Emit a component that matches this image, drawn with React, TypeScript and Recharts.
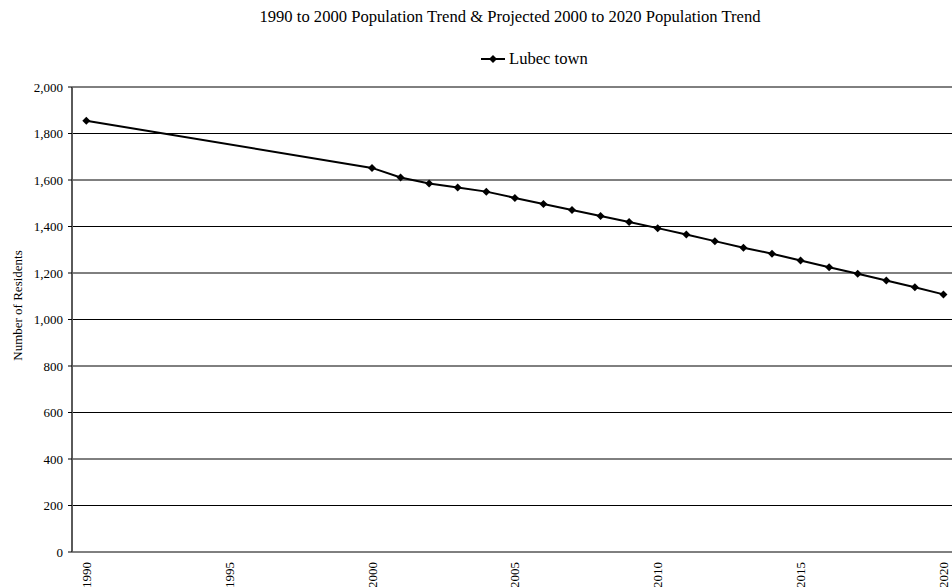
import React from 'react';
import { LineChart, Line, XAxis, YAxis, CartesianGrid } from 'recharts';

const years = [1990, 2000, 2001, 2002, 2003, 2004, 2005, 2006, 2007, 2008, 2009, 2010, 2011, 2012, 2013, 2014, 2015, 2016, 2017, 2018, 2019, 2020];
const residents = [1855, 1652, 1611, 1585, 1568, 1550, 1523, 1497, 1471, 1445, 1419, 1393, 1366, 1337, 1309, 1283, 1254, 1225, 1197, 1168, 1139, 1108];

const yearLabels = [1990, 1995, 2000, 2005, 2010, 2015, 2020];
// Excel-style date axis: marks sit on year boundaries, labels mid-year
const yearBoundaries = [1989.5, 1994.5, 1999.5, 2004.5, 2009.5, 2014.5, 2019.5];
const yTicks = [0, 200, 400, 600, 800, 1000, 1200, 1400, 1600, 1800, 2000];

const seriesName = 'Lubec town';
const title = '1990 to 2000 Population Trend & Projected 2000 to 2020 Population Trend';

const data = years.map((year, i) => ({ year, residents: residents[i] }));

const font = "'Liberation Serif', 'Times New Roman', Times, serif";

const Diamond = (props: any) => {
  const { cx, cy } = props;
  if (cx == null || cy == null) return null;
  const r = 4;
  return <path d={`M${cx},${cy - r}L${cx + r},${cy}L${cx},${cy + r}L${cx - r},${cy}Z`} fill="#000" />;
};

const YearTick = (props: any) => {
  const { x, y, payload } = props;
  return (
    <text
      transform={`translate(${x},${y}) rotate(-90)`}
      textAnchor="end"
      dy="0.35em"
      fontSize={13}
      fontFamily={font}
      fill="#000"
    >
      {payload.value}
    </text>
  );
};

export default function App() {
  return (
    <div style={{ position: 'absolute', left: 0, top: 0, width: 952, height: 587, background: '#fff' }}>
      <div
        style={{
          position: 'absolute',
          top: 9,
          left: 0,
          width: 1020,
          textAlign: 'center',
          fontFamily: font,
          fontSize: 16.6,
          lineHeight: '16px',
          color: '#000',
        }}
      >
        {title}
      </div>
      <div
        style={{
          position: 'absolute',
          top: 49,
          left: 479,
          display: 'flex',
          alignItems: 'center',
          fontFamily: font,
          fontSize: 16.6,
          color: '#000',
        }}
      >
        <svg width={28} height={14}>
          <line x1={2} y1={7} x2={26} y2={7} stroke="#000" strokeWidth={2} />
          <path d="M14,3L18,7L14,11L10,7Z" fill="#000" />
        </svg>
        <span style={{ marginLeft: 2 }}>{seriesName}</span>
      </div>
      <LineChart width={952} height={587} data={data} margin={{ top: 87, right: 0, left: 0, bottom: 0 }}>
        <CartesianGrid xAxisId="labels" vertical={false} stroke="#000" strokeWidth={1} />
        <XAxis
          xAxisId="marks"
          type="number"
          dataKey="year"
          domain={[1989.5, 2020.3]}
          ticks={yearBoundaries}
          tick={false}
          tickSize={4}
          height={0}
          axisLine={{ stroke: '#5a5a5a', strokeWidth: 2 }}
          tickLine={{ stroke: '#000' }}
          allowDataOverflow
        />
        <XAxis
          xAxisId="labels"
          type="number"
          dataKey="year"
          domain={[1989.5, 2020.3]}
          ticks={yearLabels}
          interval={0}
          tick={<YearTick />}
          tickLine={false}
          axisLine={false}
          tickSize={6}
          tickMargin={4}
          height={35}
          allowDataOverflow
        />
        <YAxis
          type="number"
          domain={[0, 2000]}
          ticks={yTicks}
          interval={0}
          width={72}
          tickSize={4}
          tickMargin={5}
          tick={{ fill: '#000', fontSize: 13, fontFamily: font }}
          tickFormatter={(v: number) => v.toLocaleString('en-US')}
          axisLine={{ stroke: '#5a5a5a', strokeWidth: 2 }}
          tickLine={{ stroke: '#000' }}
          label={{
            content: (p: any) => {
              const vb = p.viewBox;
              const cy = vb.y + vb.height / 2 - 14;
              return (
                <text
                  transform={`translate(22,${cy}) rotate(-90)`}
                  textAnchor="middle"
                  fontSize={13}
                  fontFamily={font}
                  fill="#000"
                >
                  Number of Residents
                </text>
              );
            },
          }}
        />
        <Line
          xAxisId="labels"
          type="linear"
          dataKey="residents"
          name={seriesName}
          stroke="#000"
          strokeWidth={2}
          dot={<Diamond />}
          activeDot={false}
          isAnimationActive={false}
        />
      </LineChart>
    </div>
  );
}
